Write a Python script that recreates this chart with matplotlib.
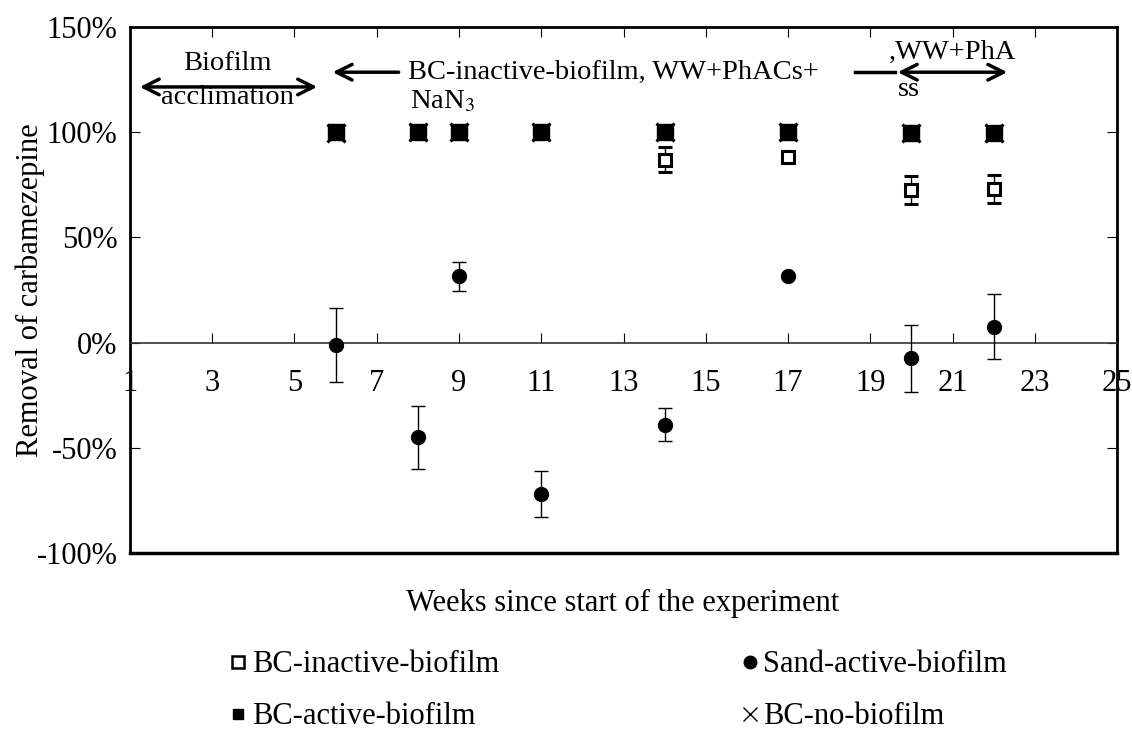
import matplotlib.pyplot as plt
import numpy as np
from matplotlib.ticker import FuncFormatter
from matplotlib.lines import Line2D

plt.rcParams['font.family'] = ['Liberation Serif', 'DejaVu Serif']
plt.rcParams['mathtext.fontset'] = 'stix'

# data (removal in %)
weeks = [6, 8, 9, 11, 14, 17, 20, 22]

bc_inactive = [100, 100, 100, 100, 87, 88, 72.5, 73]
bc_inactive_err = [0, 0, 0, 0, 6, 0, 6.5, 6.5]

sand_active = [-1, -45, 31.5, -72, -39, 31.5, -7.5, 7.5]
sand_active_err = [17.5, 15, 7, 11, 8, 0, 16, 15.5]

bc_active = [100, 100, 100, 100, 100, 100, 99.5, 99.5]
bc_no = [99.5, 100, 100, 100, 100, 100, 99.5, 99.5]

xticks = list(range(1, 26, 2))
yticks = [-100, -50, 0, 50, 100, 150]

fs = 22

fig = plt.figure(figsize=(11.32, 7.31), dpi=100)
ax = fig.add_axes([0.1148, 0.2435, 0.872, 0.7196])

ax.plot(weeks, bc_no, 'x', color='black', ms=13, mew=2.2, ls='none', zorder=4)
ax.errorbar(weeks, bc_inactive, yerr=bc_inactive_err, fmt='s', mfc='white', mec='black', mew=2.2,
            ms=8.5, ecolor='black', elinewidth=1, capsize=5, capthick=1, zorder=3)
ax.plot(weeks, bc_active, 's', color='black', ms=11, ls='none', zorder=5)
ax.errorbar(weeks, sand_active, yerr=sand_active_err, fmt='o', color='black', ms=10,
            ecolor='black', elinewidth=1, capsize=5, capthick=1, zorder=3)

ax.set_xlim(1, 25)
ax.set_ylim(-100, 150)
ax.set_xticks(xticks)
ax.set_yticks(yticks)
ax.yaxis.set_major_formatter(FuncFormatter(lambda v, p: '%d%%' % v))

# x axis crosses at zero
ax.spines['bottom'].set_position(('data', 0))
ax.spines['bottom'].set_linewidth(1.2)
ax.spines['bottom'].set_color('#333333')
for s in ['left', 'right', 'top']:
    ax.spines[s].set_linewidth(2)
ax.plot([0, 1], [0, 0], transform=ax.transAxes, color='black', lw=2.5, clip_on=False)

ax.tick_params(axis='x', direction='in', length=7, pad=19, labelsize=fs)
ax.tick_params(axis='y', direction='in', length=7, pad=9, labelsize=fs)

top = ax.secondary_xaxis('top')
top.set_xticks(xticks)
top.tick_params(direction='in', length=7, labeltop=False)
right = ax.secondary_yaxis('right')
right.set_yticks(yticks)
right.tick_params(direction='in', length=7, labelright=False)

fig.text(0.0265, 0.603, 'Removal of carbamezepine', rotation=90, ha='center', va='center', fontsize=fs)
fig.text(0.55, 0.175, 'Weeks since start of the experiment', ha='center', va='center', fontsize=fs)

# period annotations
afs = 20.5
arrow_kw = dict(arrowstyle='<->', lw=2.5, color='black', mutation_scale=28)
ax.annotate('', xy=(1.17, 121.5), xytext=(5.62, 121.5), arrowprops=arrow_kw)
ax.text(3.38, 132.5, 'Biofilm', ha='center', va='center', fontsize=afs)
ax.text(3.38, 116.5, 'acclimation', ha='center', va='center', fontsize=afs)

ax.annotate('', xy=(5.86, 128.5), xytext=(7.6, 128.5),
            arrowprops=dict(arrowstyle='->', lw=2.5, color='black', mutation_scale=28))
ax.text(7.75, 128.5, 'BC-inactive-biofilm, WW+PhACs+', ha='left', va='center', fontsize=afs)
ax.text(7.8, 114.5, 'NaN$_3$', ha='left', va='center', fontsize=afs)

ax.plot([18.63, 19.6], [128.5, 128.5], color='black', lw=2.5)
ax.annotate('', xy=(19.6, 128.5), xytext=(22.4, 128.5), arrowprops=arrow_kw)
ax.text(21.0, 138.0, ',WW+PhA', ha='center', va='center', fontsize=afs)
ax.text(19.95, 120.5, 'ss', ha='center', va='center', fontsize=afs)

handles = [
    Line2D([], [], ls='none', marker='s', mfc='white', mec='black', mew=1.8, ms=9),
    Line2D([], [], ls='none', marker='s', color='black', ms=7.5),
    Line2D([], [], ls='none', marker='o', color='black', ms=9),
    Line2D([], [], ls='none', marker='x', color='black', ms=10, mew=1),
]
fig.legend(handles,
           ['BC-inactive-biofilm', 'BC-active-biofilm', 'Sand-active-biofilm', 'BC-no-biofilm'],
           ncol=2, loc='center', bbox_to_anchor=(0.546, 0.055), frameon=False, fontsize=fs,
           handletextpad=0.15, handlelength=0.6, columnspacing=7.9, labelspacing=0.75)

fig.savefig('out.png', dpi=100)
